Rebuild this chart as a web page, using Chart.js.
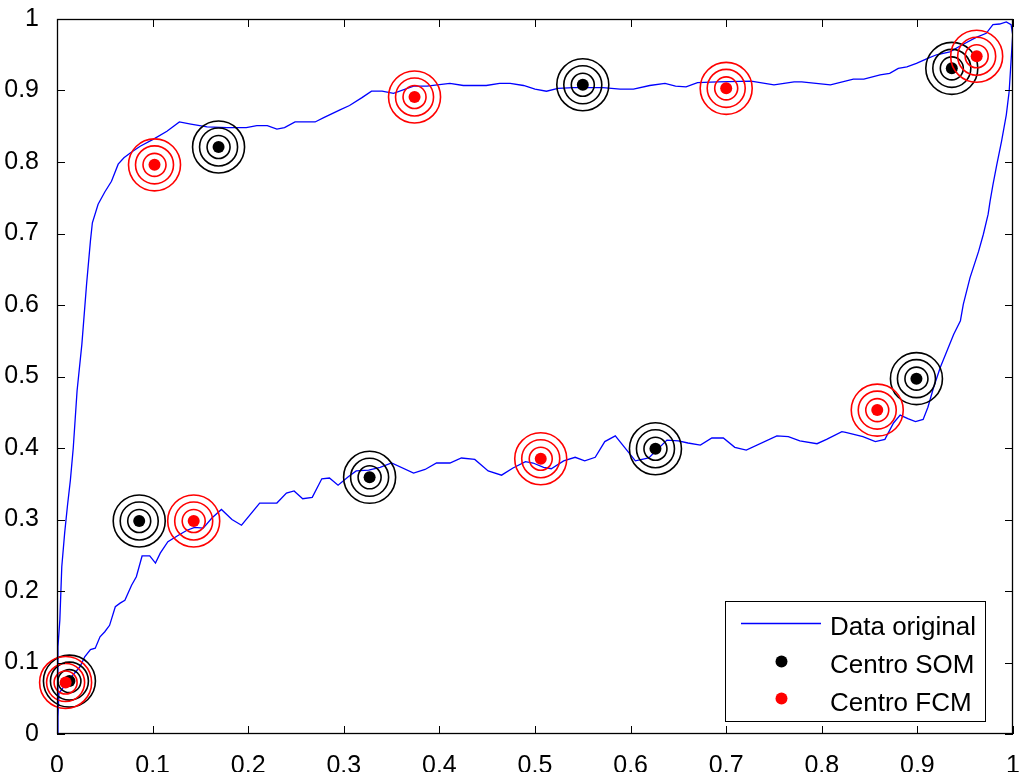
<!DOCTYPE html>
<html><head><meta charset="utf-8">
<script src="https://cdn.jsdelivr.net/npm/chart.js@4/dist/chart.umd.min.js"></script>
<style>html,body{margin:0;padding:0;background:#fff;}#wrap{width:1022px;height:772px;position:relative;}</style>
</head><body><div id="wrap"><canvas id="c" width="1022" height="772"></canvas></div>
<script>
// Blue hysteresis loop (traversed: up the left side, upper branch, down the right side, lower branch back)
const loopX = [0.000,0.001,0.001,0.003,0.005,0.008,0.011,0.014,0.017,0.021,0.026,0.031,0.035,0.037,0.043,0.050,0.057,0.064,0.070,0.077,0.087,0.101,0.115,0.128,0.140,0.157,0.178,0.198,0.209,0.220,0.230,0.238,0.249,0.270,0.279,0.296,0.306,0.319,0.329,0.340,0.352,0.373,0.387,0.411,0.425,0.449,0.463,0.474,0.488,0.500,0.512,0.524,0.540,0.571,0.589,0.603,0.620,0.636,0.647,0.658,0.670,0.691,0.726,0.750,0.771,0.779,0.809,0.833,0.844,0.861,0.871,0.880,0.889,0.899,0.909,0.920,0.934,0.947,0.961,0.972,0.979,0.986,0.993,0.998,0.9997,
0.996,0.993,0.988,0.983,0.979,0.976,0.974,0.969,0.964,0.955,0.948,0.945,0.938,0.931,0.924,0.917,0.911,0.906,0.898,0.890,0.882,0.875,0.866,0.856,0.843,0.825,0.821,0.805,0.795,0.777,0.765,0.753,0.721,0.709,0.697,0.685,0.673,0.660,0.650,0.638,0.619,0.605,0.596,0.584,0.573,0.563,0.552,0.542,0.530,0.517,0.509,0.498,0.490,0.477,0.465,0.451,0.437,0.423,0.411,0.397,0.385,0.373,0.350,0.338,0.326,0.313,0.305,0.294,0.285,0.277,0.267,0.257,0.248,0.240,0.230,0.212,0.193,0.183,0.172,0.162,0.153,0.144,0.136,0.127,0.116,0.108,0.103,0.097,0.089,0.083,0.078,0.071,0.066,0.061,0.055,0.050,0.045,0.040,0.035,0.029,0.024,0.015,0.007,0.002,0.001,0.000];
const loopY = [0.000,0.024,0.122,0.160,0.234,0.281,0.320,0.355,0.400,0.480,0.545,0.630,0.690,0.715,0.741,0.758,0.773,0.797,0.806,0.813,0.822,0.832,0.843,0.856,0.853,0.849,0.848,0.848,0.851,0.851,0.846,0.848,0.856,0.856,0.862,0.873,0.879,0.890,0.899,0.899,0.896,0.906,0.906,0.910,0.907,0.907,0.910,0.910,0.907,0.902,0.899,0.903,0.904,0.904,0.902,0.902,0.907,0.910,0.906,0.905,0.911,0.912,0.913,0.908,0.912,0.912,0.908,0.916,0.916,0.922,0.924,0.931,0.933,0.938,0.944,0.950,0.954,0.964,0.974,0.980,0.992,0.993,0.996,0.992,0.978,
0.899,0.866,0.829,0.796,0.768,0.745,0.727,0.699,0.675,0.638,0.601,0.578,0.559,0.536,0.513,0.485,0.457,0.440,0.437,0.441,0.446,0.435,0.412,0.409,0.416,0.422,0.423,0.412,0.406,0.410,0.416,0.417,0.397,0.401,0.414,0.414,0.404,0.407,0.410,0.411,0.386,0.382,0.397,0.417,0.409,0.387,0.382,0.387,0.382,0.371,0.373,0.379,0.381,0.372,0.362,0.368,0.384,0.386,0.379,0.379,0.370,0.365,0.379,0.373,0.369,0.368,0.360,0.348,0.358,0.357,0.331,0.329,0.340,0.337,0.323,0.323,0.292,0.300,0.314,0.302,0.288,0.289,0.285,0.278,0.269,0.253,0.239,0.249,0.249,0.220,0.208,0.187,0.183,0.178,0.152,0.143,0.136,0.120,0.118,0.108,0.094,0.080,0.066,0.057,0.024,0.000];

// Cluster centres
const somX = [0.013,0.086,0.169,0.327,0.550,0.626,0.899,0.936];
const somY = [0.074,0.298,0.821,0.359,0.908,0.399,0.497,0.931];
const fcmX = [0.009,0.143,0.102,0.374,0.506,0.700,0.858,0.962];
const fcmY = [0.072,0.298,0.796,0.891,0.385,0.903,0.453,0.948];

const seriesLabels = ['Data original','Centro SOM','Centro FCM'];
const xTickValues = [0,0.1,0.2,0.3,0.4,0.5,0.6,0.7,0.8,0.9,1];
const xTickLabels = ['0','0.1','0.2','0.3','0.4','0.5','0.6','0.7','0.8','0.9','1'];
const yTickValues = [0,0.1,0.2,0.3,0.4,0.5,0.6,0.7,0.8,0.9,1];
const yTickLabels = ['0','0.1','0.2','0.3','0.4','0.5','0.6','0.7','0.8','0.9','1'];

const toPts = (xs, ys) => xs.map((x, i) => ({x: x, y: ys[i]}));
const FONT = '"Liberation Sans", Arial, Helvetica, sans-serif';
const BLUE = '#0000ff', BLACK = '#000000', RED = '#ff0000';

function markerSets(xs, ys, color, label, order) {
  const sets = [];
  [26, 19, 11.5].forEach(r => sets.push({
    type: 'scatter', label: label, ring: true, data: toPts(xs, ys), order: order,
    pointRadius: r, pointHoverRadius: r, pointBorderWidth: 1.6, pointHoverBorderWidth: 1.6,
    pointBackgroundColor: 'rgba(0,0,0,0)', pointBorderColor: color, showLine: false, clip: 30
  }));
  sets.push({
    type: 'scatter', label: label, data: toPts(xs, ys), order: order,
    pointRadius: 6, pointHoverRadius: 6, pointBorderWidth: 0,
    pointBackgroundColor: color, pointBorderColor: color, showLine: false, clip: 30
  });
  return sets;
}

const frameTicks = {
  id: 'frameTicks',
  afterDatasetsDraw(chart) {
    const {ctx, chartArea: a, scales: {x, y}} = chart;
    ctx.save();
    ctx.strokeStyle = '#000'; ctx.lineWidth = 1;
    ctx.beginPath();
    xTickValues.forEach(v => {
      const p = Math.round(x.getPixelForValue(v)) + 0.5;
      ctx.moveTo(p, a.bottom); ctx.lineTo(p, a.bottom - 8);
      ctx.moveTo(p, a.top); ctx.lineTo(p, a.top + 8);
    });
    yTickValues.forEach(v => {
      const p = Math.round(y.getPixelForValue(v)) + 0.5;
      ctx.moveTo(a.left, p); ctx.lineTo(a.left + 8, p);
      ctx.moveTo(a.right, p); ctx.lineTo(a.right - 8, p);
    });
    ctx.stroke();
    ctx.lineWidth = 1.3;
    ctx.strokeRect(a.left + 0.5, a.top + 0.5, a.right - a.left - 1, a.bottom - a.top - 1);
    ctx.restore();
  }
};

const boxLegend = {
  id: 'boxLegend',
  afterDraw(chart) {
    const ctx = chart.ctx;
    const L = 725.5, T = 601.5, W = 260, H = 120;
    ctx.save();
    ctx.fillStyle = '#fff'; ctx.fillRect(L, T, W, H);
    ctx.strokeStyle = '#000'; ctx.lineWidth = 1; ctx.strokeRect(L, T, W, H);
    ctx.font = '26px ' + FONT; ctx.fillStyle = '#000'; ctx.textBaseline = 'alphabetic'; ctx.textAlign = 'left';
    const rowsY = [623.5, 661.5, 698.5];
    const base = [635, 673, 710.5];
    ctx.strokeStyle = BLUE; ctx.lineWidth = 1.3;
    ctx.beginPath(); ctx.moveTo(741, rowsY[0]); ctx.lineTo(821, rowsY[0]); ctx.stroke();
    ctx.fillText(seriesLabels[0], 830, base[0]);
    [BLACK, RED].forEach((c, i) => {
      ctx.fillStyle = c; ctx.beginPath(); ctx.arc(781.5, rowsY[i + 1], 6, 0, Math.PI * 2); ctx.fill();
      ctx.fillStyle = '#000'; ctx.fillText(seriesLabels[i + 1], 830, base[i + 1]);
    });
    ctx.restore();
  }
};

const tickFont = {family: FONT, size: 25};
const noPad = s => { s.paddingLeft = 0; s.paddingRight = 0; s.paddingTop = 0; s.paddingBottom = 0; };

new Chart(document.getElementById('c'), {
  type: 'scatter',
  data: {
    datasets: [
      {type: 'scatter', label: seriesLabels[0], data: toPts(loopX, loopY), showLine: true,
       borderColor: BLUE, borderWidth: 1.3, pointRadius: 0, pointHoverRadius: 0, fill: false,
       tension: 0, order: 10},
      ...markerSets(somX, somY, BLACK, seriesLabels[1], 5),
      ...markerSets(fcmX, fcmY, RED, seriesLabels[2], 1)
    ]
  },
  options: {
    responsive: false, animation: false, events: [],
    layout: {autoPadding: false, padding: {top: 19, right: 9, left: 0, bottom: 0}},
    plugins: {legend: {display: false}, tooltip: {enabled: false}},
    scales: {
      x: {
        type: 'linear', min: 0, max: 1,
        afterBuildTicks: s => { s.ticks = xTickValues.map(v => ({value: v})); },
        afterFit: s => { s.height = 38; noPad(s); },
        ticks: {callback: (v, i) => xTickLabels[i], font: tickFont, color: '#000', padding: 9,
                maxRotation: 0, autoSkip: false},
        grid: {display: false}, border: {display: false}
      },
      y: {
        type: 'linear', min: 0, max: 1,
        afterBuildTicks: s => { s.ticks = yTickValues.map(v => ({value: v})); },
        afterFit: s => { s.width = 57; noPad(s); },
        ticks: {callback: (v, i) => yTickLabels[i], font: tickFont, color: '#000', padding: 10,
                autoSkip: false},
        grid: {display: false}, border: {display: false}
      }
    }
  },
  plugins: [frameTicks, boxLegend]
});
</script></body></html>
